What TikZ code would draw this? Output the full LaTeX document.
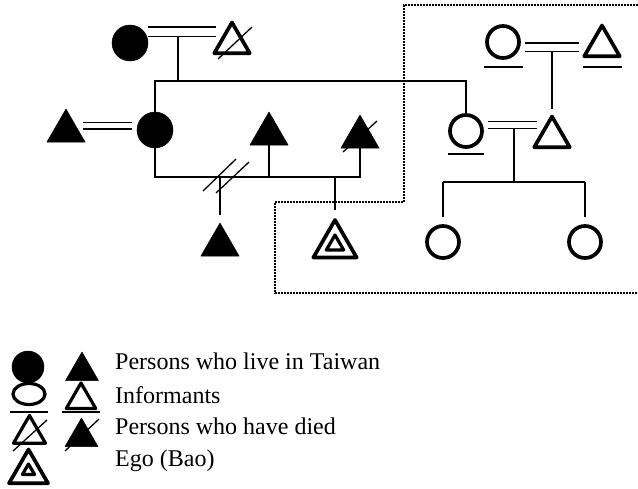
\documentclass[tikz,border=0pt]{standalone}
\usepackage{fontspec}
\setmainfont{Liberation Serif}
\usetikzlibrary{shapes.geometric, calc}
\tikzstyle{livef} = [circle, draw, fill=black, line width=0.5pt, minimum size=36pt, inner sep=0pt]
\tikzstyle{livem} = [regular polygon, regular polygon sides=3, draw, fill=black, line width=0.5pt, line join=round, minimum size=44pt, inner sep=0pt]
\tikzstyle{openf} = [circle, draw, line width=3.7pt, minimum size=32pt, inner sep=0pt]
\tikzstyle{openm} = [regular polygon, regular polygon sides=3, draw, fill=white, line width=3.7pt, line join=round, minimum size=41pt, inner sep=0pt]
\tikzstyle{line} = [line width=1.3pt]
\tikzstyle{marry} = [double, line width=1.3pt, double distance=5.4pt]
\tikzstyle{group} = [line width=1.6pt, dash pattern=on 1.6pt off 1.4pt]
\tikzstyle{keytext} = [anchor=base west, font=\fontsize{24}{28}\selectfont, inner sep=0pt]

\begin{document}
\begin{tikzpicture}[x=1pt, y=-1pt]
    \useasboundingbox (0,0) rectangle (638,488);
    % grandparents
    \node[livef] (gma) at (130,43) {};
    \node[openm] (gpa) at (232,43) {};
    \draw[line] ($(gpa)+(-14,16)$) -- ($(gpa)+(20,-16)$);
    \draw[marry, double distance=8pt, shorten >=2pt] ([yshift=11.5pt]gma.east) -- ([yshift=11.5pt]gma.east -| gpa.west);
    \coordinate (gmgp) at (178,36);
    \coordinate (sibs) at (178,81);
    % second generation
    \node[livem] (uncle) at (66,131) {};
    \node[livef] (aunt) at (155,130) {};
    \draw[marry, shorten <=4pt, shorten >=5pt] ([yshift=5.5pt]uncle.east) -- ([yshift=5.5pt]uncle.east -| aunt.west);
    \node[openf] (infm) at (466,131) {};
    \node[openm] (inff) at (552,137) {};
    \draw[line] ($(infm)+(-18,23)$) -- ($(infm)+(18,23)$);
    \draw[marry, shorten <=4pt, shorten >=1pt] ([yshift=6pt]infm.east) -- ([yshift=6pt]infm.east -| inff.west);
    \draw[line] (gmgp) -- (sibs);
    \draw[line] (aunt.north) -- (aunt.north |- sibs) -- (infm.north |- sibs) -- (infm.north);
    % great-grandparents on the right
    \node[openf] (ggma) at (503,42) {};
    \node[openm] (ggpa) at (602,46) {};
    \draw[line] ($(ggma)+(-19,25)$) -- ($(ggma)+(20,25)$);
    \draw[line] ($(ggpa)+(-19,21)$) -- ($(ggpa)+(20,21)$);
    \draw[marry, double distance=7pt, shorten <=4pt, shorten >=9pt] ([yshift=-5pt]ggma.east) -- ([yshift=-5pt]ggma.east -| ggpa.west);
    \coordinate (ggc) at (552,51);
    \draw[line, shorten >=4pt] (ggc) -- (inff.corner 1);
    % third generation
    \node[livem] (bro) at (269,134) {};
    \node[livem] (deadbro) at (360,137) {};
    \draw[line] ($(deadbro)+(-17,15)$) -- ($(deadbro)+(17,-16)$);
    \node[livem] (halfbro) at (220,245) {};
    \node[openm, minimum size=50pt] (ego) at (335,245) {};
    \node[openm, line width=3.2pt, minimum size=20pt] (egoin) at (335,245) {};
    \coordinate (kids) at (155,177);
    \draw[line] (aunt.south) -- (kids) -- (kids -| deadbro.side 2) -- (deadbro.side 2);
    \draw[line] (bro.side 2) -- (bro.side 2 |- kids);
    \coordinate (split) at (halfbro.corner 1 |- kids);
    \draw[line, shorten >=8pt] (split) -- (halfbro.corner 1);
    \draw[line] ($(split)+(-17,14)$) -- ($(split)+(16,-18)$);
    \draw[line] ($(split)+(-4,16)$) -- ($(split)+(29,-15)$);
    \draw[line, shorten >=6pt] (ego.corner 1 |- kids) -- (ego.corner 1);
    \node[openf] (dau1) at (443,242) {};
    \node[openf] (dau2) at (585,242) {};
    \coordinate (infc) at (514,128);
    \coordinate (infkids) at (514,182);
    \draw[line] (infc) -- (infkids);
    \draw[line, shorten >=7pt] (dau1.north |- infkids) -- (dau1.north);
    \draw[line, shorten >=7pt] (dau2.north |- infkids) -- (dau2.north);
    \draw[line] (dau1.north |- infkids) -- (dau2.north |- infkids);
    % people seen on the trip
    \draw[group] (638,5) -| (404,202) -| (275,293) -- (638,293);
    % key
    \node[livef, minimum size=32pt] (keylf) at (28,367) {};
    \node[livem, minimum size=38pt] (keylm) at (82,371) {};
    \node[keytext] (keyl) at (115,369) {Persons who live in Taiwan};
    \node[ellipse, draw, line width=3.2pt, minimum width=32pt, minimum height=21pt, inner sep=0pt] (keyif) at (29,394) {};
    \node[openm, line width=3.2pt, minimum size=34pt] (keyim) at (81,400) {};
    \draw[line] ($(keyif)+(-19,18)$) -- ($(keyif)+(19,18)$);
    \draw[line] ($(keyim)+(-19,12)$) -- ($(keyim)+(19,12)$);
    \node[keytext] (keyi) at (115,403) {Informants};
    \node[openm, line width=3.2pt, minimum size=37pt] (keydf) at (29.5,434) {};
    \draw[line] ($(keydf)+(-16.5,17)$) -- ($(keydf)+(17.5,-14)$);
    \node[livem, minimum size=38pt] (keydm) at (81.5,437) {};
    \draw[line] ($(keydm)+(-16.5,14)$) -- ($(keydm)+(17.5,-18)$);
    \node[keytext] (keyd) at (115,434) {Persons who have died};
    \node[openm, minimum size=45pt] (keyego) at (28.5,472) {};
    \node[openm, line width=3.2pt, minimum size=14pt] (keyegoin) at (28.5,471) {};
    \node[keytext] (keye) at (115,466) {Ego (Bao)};
\end{tikzpicture}
\end{document}
